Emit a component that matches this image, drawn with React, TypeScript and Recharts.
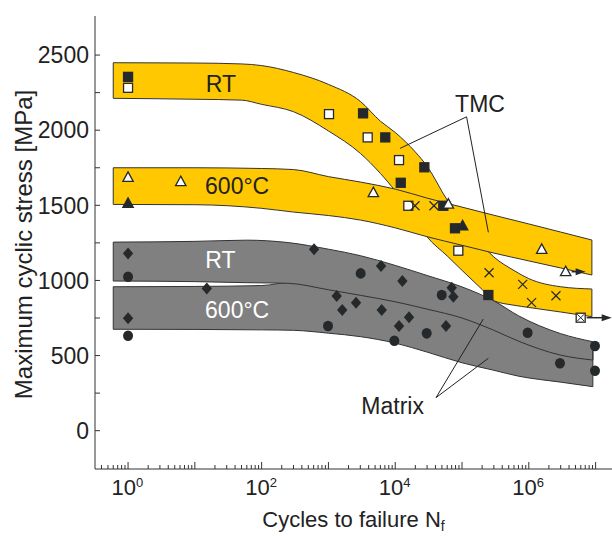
import React from "react";
import {
  ComposedChart,
  Area,
  Scatter,
  XAxis,
  YAxis,
  ReferenceLine,
  ReferenceDot,
  Label,
} from "recharts";

// ─── scatter bands: [cycles, lower, upper] ───
const tmcRtBand = [
  [0.6, 2212, 2449],
  [10, 2206, 2447],
  [50, 2200, 2441],
  [100, 2172, 2430],
  [300, 2123, 2384],
  [1000, 1995, 2305],
  [3000, 1846, 2192],
  [6000, 1712, 2060],
  [1e4, 1595, 1985],
  [2e4, 1400, 1855],
  [3e4, 1290, 1760],
  [6e4, 1163, 1535],
  [1e5, 1067, 1400],
  [2e5, 940, 1234],
  [3e5, 865, 1156],
  [6e5, 835, 1066],
  [1e6, 820, 1012],
  [3e6, 790, 958],
  [8.8e6, 759, 943],
];
const tmc600Band = [
  [0.6, 1506, 1750],
  [10, 1504, 1750],
  [100, 1480, 1745],
  [300, 1455, 1738],
  [1000, 1432, 1691],
  [3000, 1402, 1655],
  [1e4, 1350, 1608],
  [3e4, 1291, 1548],
  [1e5, 1234, 1488],
  [3e5, 1182, 1434],
  [1e6, 1130, 1376],
  [3e6, 1083, 1322],
  [8.8e6, 1036, 1269],
];
const matrixRtBand = [
  [0.6, 996, 1255],
  [10, 992, 1260],
  [60, 985, 1268],
  [250, 981, 1252],
  [1000, 938, 1208],
  [3000, 901, 1165],
  [1e4, 858, 1100],
  [3e4, 809, 1033],
  [1e5, 750, 957],
  [3e5, 668, 864],
  [7e5, 596, 765],
  [3e6, 503, 646],
  [9.1e6, 470, 592],
];
const matrix600Band = [
  [0.6, 675, 958],
  [10, 674, 960],
  [100, 671, 966],
  [300, 668, 990],
  [1000, 649, 990],
  [3000, 626, 960],
  [1e4, 583, 920],
  [3e4, 523, 860],
  [1e5, 452, 800],
  [3e5, 402, 740],
  [7e5, 363, 680],
  [3e6, 323, 600],
  [9.1e6, 293, 530],
];

// ─── test points: [cycles, max stress] ───
const tmcRtFilled = [
  [1, 2355], [3300, 2112], [7100, 1952], [12100, 1650], [27300, 1753],
  [52500, 1497], [78500, 1347], [248000, 903],
];
const tmcRtOpen = [
  [1, 2282], [1020, 2107], [3870, 1952], [11400, 1801], [15700, 1497], [88000, 1198],
];
const tmc600Open = [
  [1, 1686], [6.15, 1657], [4700, 1584], [62400, 1508], [1.56e6, 1207],
];
const tmc600OpenRunout = [[3.56e6, 1058]];
const tmc600Filled = [[1, 1513], [1.02e5, 1364]];
const tmcCross = [
  [19800, 1497], [38000, 1497], [254000, 1051], [810000, 974], [1.1e6, 852], [2.55e6, 898],
];
const tmcRunout = [[5.98e6, 752]];
const matrixDiamond = [
  [1, 1180], [1, 748], [15.1, 947], [609, 1207], [1330, 896], [1610, 803],
  [2590, 852], [6130, 1096], [6280, 803], [11400, 697], [12800, 996],
  [16100, 755], [57600, 697], [70100, 952], [74200, 892],
];
const matrixCircle = [
  [1, 1025], [1, 632], [986, 697], [3040, 1047], [9700, 599], [29600, 648],
  [49700, 903], [960000, 652], [2.93e6, 449], [9.8e6, 564], [9.8e6, 399],
];

// ─── axes ───
const yTicks = [0, 250, 500, 750, 1000, 1250, 1500, 1750, 2000, 2250, 2500];
const decades = [-1, 0, 1, 2, 3, 4, 5, 6, 7];
const X_DOMAIN = [0.32, 1.76e7];
const Y_DOMAIN = [-255, 2760];

// ─── annotations ───
const bandLabels = [
  { n: 24.5, v: 2306, text: "RT", color: "#222" },
  { n: 43, v: 1630, text: "600°C", color: "#222" },
  { n: 24.2, v: 1136, text: "RT", color: "#fff" },
  { n: 43, v: 803, text: "600°C", color: "#fff" },
  { n: 1.86e5, v: 2178, text: "TMC", color: "#222" },
  { n: 9160, v: 168, text: "Matrix", color: "#222" },
];
const leaders = [
  [[1.17e5, 2089], [11800, 1879]],
  [[1.17e5, 2089], [2.48e5, 1320]],
  [[40800, 220], [2.08e5, 743]],
  [[40800, 220], [2.48e5, 482]],
];

const YELLOW = "#FFC800";
const GREY = "#808080";
const INK = "#26292b";
const LINE = "#333";
const FONT = "'Liberation Sans', Arial, sans-serif";

const xTicks = decades
  .flatMap((d) => [1, 2, 3, 4, 5, 6, 7, 8, 9].map((m) => m * Math.pow(10, d)))
  .filter((v) => v >= X_DOMAIN[0] && v <= X_DOMAIN[1]);

const toBand = (b: number[][]) => b.map(([n, lo, hi]) => ({ n, r: [lo, hi] }));
const toPts = (p: number[][]) => p.map(([n, v]) => ({ n, v }));

const isDecade = (v: number) => {
  const e = Math.round(Math.log10(v));
  return Math.abs(v - Math.pow(10, e)) < 1e-6 * v ? e : null;
};

function XTick(props: any) {
  const { x, y, payload, top } = props;
  const e = isDecade(payload.value);
  const len = e !== null ? 7 : 4;
  const dir = top ? 1 : -1;
  return (
    <g>
      <line x1={x} x2={x} y1={y} y2={y + dir * len} stroke={LINE} strokeWidth={1} />
      {!top && e !== null && e % 2 === 0 && (
        <g fill="#222" fontFamily={FONT}>
          <text x={x + 8} y={y + 26} textAnchor="end" fontSize={22}>10</text>
          <text x={x + 8} y={y + 18} fontSize={13}>{e}</text>
        </g>
      )}
    </g>
  );
}

function YTick(props: any) {
  const { x, y, payload, right } = props;
  const dir = right ? -1 : 1;
  return (
    <g>
      <line x1={x} x2={x + dir * 5} y1={y} y2={y} stroke={LINE} strokeWidth={1} />
      {!right && payload.value % 500 === 0 && (
        <text x={x - 6} y={y} dy="0.36em" textAnchor="end" fontSize={23} fill="#222" fontFamily={FONT}>
          {payload.value}
        </text>
      )}
    </g>
  );
}

const square = (fill: string) => (p: any) => (
  <rect x={p.cx - 4.5} y={p.cy - 4.5} width={9} height={9} fill={fill} stroke={INK} strokeWidth={1.3} />
);

const arrow = (x: number, y: number, len: number) => (
  <g>
    <line x1={x} x2={x + len - 8} y1={y} y2={y} stroke={INK} strokeWidth={1.5} />
    <polygon points={`${x + len},${y} ${x + len - 10},${y - 3.5} ${x + len - 10},${y + 3.5}`} fill={INK} />
  </g>
);

const triangle = (fill: string, runout = 0) => (p: any) => (
  <g>
    <polygon
      points={`${p.cx},${p.cy - 5.5} ${p.cx - 5.2},${p.cy + 4} ${p.cx + 5.2},${p.cy + 4}`}
      fill={fill}
      stroke={INK}
      strokeWidth={1.3}
    />
    {runout > 0 && arrow(p.cx + 6, p.cy, runout)}
  </g>
);

const cross = (p: any) => (
  <g stroke={INK} strokeWidth={1.2}>
    <line x1={p.cx - 4.5} y1={p.cy - 4.5} x2={p.cx + 4.5} y2={p.cy + 4.5} />
    <line x1={p.cx - 4.5} y1={p.cy + 4.5} x2={p.cx + 4.5} y2={p.cy - 4.5} />
  </g>
);

const boxedCross = (p: any) => (
  <g>
    <rect x={p.cx - 4.5} y={p.cy - 4.5} width={9} height={9} fill="#fff" stroke={INK} strokeWidth={1.3} />
    <g stroke={INK} strokeWidth={1}>
      <line x1={p.cx - 3.5} y1={p.cy - 3.5} x2={p.cx + 3.5} y2={p.cy + 3.5} />
      <line x1={p.cx - 3.5} y1={p.cy + 3.5} x2={p.cx + 3.5} y2={p.cy - 3.5} />
    </g>
    {arrow(p.cx + 6, p.cy, 25)}
  </g>
);

const diamond = (p: any) => (
  <polygon
    points={`${p.cx},${p.cy - 6} ${p.cx + 5.2},${p.cy} ${p.cx},${p.cy + 6} ${p.cx - 5.2},${p.cy}`}
    fill={INK}
  />
);

const circle = (p: any) => <ellipse cx={p.cx} cy={p.cy} rx={5} ry={5.3} fill={INK} />;

const bands = [
  { data: matrix600Band, fill: GREY },
  { data: matrixRtBand, fill: GREY },
  { data: tmcRtBand, fill: YELLOW },
  { data: tmc600Band, fill: YELLOW },
];

const series = [
  { data: matrixDiamond, shape: diamond },
  { data: matrixCircle, shape: circle },
  { data: tmcRtOpen, shape: square("#fff") },
  { data: tmcRtFilled, shape: square(INK) },
  { data: tmc600Open, shape: triangle("#fff") },
  { data: tmc600OpenRunout, shape: triangle("#fff", 14) },
  { data: tmc600Filled, shape: triangle(INK) },
  { data: tmcCross, shape: cross },
  { data: tmcRunout, shape: boxedCross },
];

export default function App() {
  return (
    <div style={{ position: "absolute", left: 0, top: 0, width: 612, height: 536, background: "#fff", fontFamily: FONT }}>
      <ComposedChart width={612} height={536} margin={{ top: 16, right: 0, bottom: 0, left: 0 }}>
        <XAxis
          dataKey="n"
          type="number"
          scale="log"
          domain={X_DOMAIN}
          allowDataOverflow
          ticks={xTicks}
          interval={0}
          height={67}
          tickSize={0}
          tickMargin={0}
          tickLine={false}
          stroke={LINE}
          tick={(p: any) => <XTick {...p} />}
        >
          <Label
            content={(p: any) => {
              const vb = p.viewBox;
              return (
                <text x={vb.x + vb.width / 2} y={vb.y + 58} textAnchor="middle" fontSize={22} fill="#222" fontFamily={FONT}>
                  Cycles to failure N<tspan fontSize={14} dy={4}>f</tspan>
                </text>
              );
            }}
          />
        </XAxis>
        <XAxis
          xAxisId="top"
          orientation="top"
          dataKey="n"
          type="number"
          scale="log"
          domain={X_DOMAIN}
          allowDataOverflow
          ticks={xTicks}
          interval={0}
          height={0}
          tickSize={0}
          tickMargin={0}
          tickLine={false}
          stroke={LINE}
          tick={(p: any) => <XTick {...p} top />}
        />
        <YAxis
          type="number"
          domain={Y_DOMAIN}
          allowDataOverflow
          ticks={yTicks}
          interval={0}
          width={95}
          tickSize={0}
          tickMargin={0}
          tickLine={false}
          stroke={LINE}
          tick={(p: any) => <YTick {...p} />}
        >
          <Label
            content={(p: any) => {
              const vb = p.viewBox;
              return (
                <text
                  transform={`translate(${vb.x + 23}, ${vb.y + vb.height / 2 + 2}) rotate(-90)`}
                  textAnchor="middle"
                  dy="0.36em"
                  fontSize={24}
                  fill="#222"
                  fontFamily={FONT}
                >
                  Maximum cyclic stress [MPa]
                </text>
              );
            }}
          />
        </YAxis>
        <YAxis
          yAxisId="right"
          orientation="right"
          type="number"
          domain={Y_DOMAIN}
          allowDataOverflow
          ticks={yTicks}
          interval={0}
          width={0}
          tickSize={0}
          tickMargin={0}
          tickLine={false}
          axisLine={false}
          tick={(p: any) => <YTick {...p} right />}
        />

        {bands.map((b, i) => (
          <Area
            key={`band-${i}`}
            data={toBand(b.data)}
            dataKey="r"
            type="monotoneX"
            fill={b.fill}
            fillOpacity={1}
            stroke={LINE}
            strokeWidth={1}
            dot={false}
            activeDot={false}
            isAnimationActive={false}
          />
        ))}

        {bands.flatMap((b) => [b.data[0], b.data[b.data.length - 1]]).map(([n, lo, hi], i) => (
          <ReferenceLine
            key={`cap-${i}`}
            segment={[{ x: n, y: lo }, { x: n, y: hi }]}
            stroke={LINE}
            strokeWidth={1}
          />
        ))}

        {leaders.map(([a, b], i) => (
          <ReferenceLine
            key={`lead-${i}`}
            segment={[{ x: a[0], y: a[1] }, { x: b[0], y: b[1] }]}
            stroke="#222"
            strokeWidth={1}
            ifOverflow="visible"
          />
        ))}

        {bandLabels.map((l, i) => (
          <ReferenceDot
            key={`lbl-${i}`}
            x={l.n}
            y={l.v}
            r={0}
            fill="none"
            stroke="none"
            label={{ value: l.text, position: "center", fill: l.color, fontSize: 23, fontFamily: FONT }}
          />
        ))}

        {series.map((s, i) => (
          <Scatter
            key={`pts-${i}`}
            data={toPts(s.data)}
            dataKey="v"
            shape={s.shape}
            isAnimationActive={false}
          />
        ))}
      </ComposedChart>
    </div>
  );
}
